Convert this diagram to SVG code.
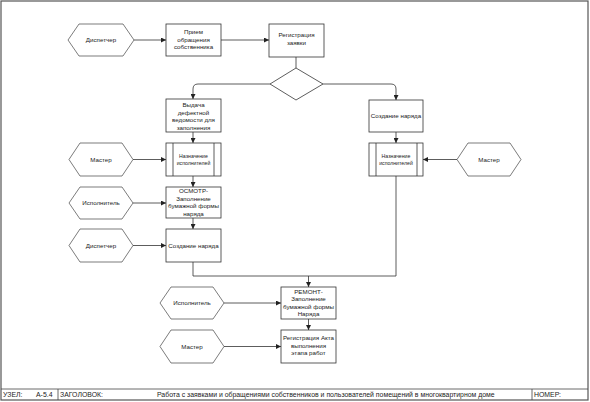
<svg xmlns="http://www.w3.org/2000/svg" width="590" height="402" viewBox="0 0 590 402">
<style>
.b{fill:#fff;stroke:#333;stroke-width:0.8}
.h{fill:#fff;stroke:#444;stroke-width:0.7}
.c{fill:none;stroke:#333;stroke-width:0.8}
text{font-family:"Liberation Sans",Arial,sans-serif;font-size:6.2px;fill:#222;text-anchor:middle}
.s{font-size:5.2px}
.f{font-size:6.9px;text-anchor:start}
</style>
<defs>
<marker id="a" viewBox="0 0 6 6" refX="6" refY="3" markerWidth="5" markerHeight="5" orient="auto" markerUnits="userSpaceOnUse">
<path d="M0,0L6,3L0,6z" fill="#222"/>
</marker>
</defs>
<rect x="0" y="0" width="590" height="402" fill="#fff"/>
<rect x="1" y="1" width="587" height="399" fill="none" stroke="#555" stroke-width="1.2"/>
<g id="footer">
<line x1="1" y1="389" x2="588" y2="389" stroke="#444" stroke-width="0.8"/>
<line x1="58" y1="389" x2="58" y2="400" stroke="#444" stroke-width="0.8"/>
<line x1="532" y1="389" x2="532" y2="400" stroke="#444" stroke-width="0.8"/>
<text class="f" x="3" y="397">УЗЕЛ:</text>
<text class="f" x="36" y="397">A-5.4</text>
<text class="f" x="60" y="397">ЗАГОЛОВОК:</text>
<text class="f" x="157" y="397">Работа с заявками и обращениями собственников и пользователей помещений в многоквартирном доме</text>
<text class="f" x="534" y="397">НОМЕР:</text>
</g>
<g id="connectors">
<path class="c" d="M134,40H166" marker-end="url(#a)"/>
<path class="c" d="M221,40H269" marker-end="url(#a)"/>
<path class="c" d="M296,57V68"/>
<path class="c" d="M270,84H198Q193,84 193,89V99" marker-end="url(#a)"/>
<path class="c" d="M323,84H391Q396,84 396,89V100" marker-end="url(#a)"/>
<path class="c" d="M193,132V143" marker-end="url(#a)"/>
<path class="c" d="M133,159.5H166" marker-end="url(#a)"/>
<path class="c" d="M193,176V187" marker-end="url(#a)"/>
<path class="c" d="M133,203H166" marker-end="url(#a)"/>
<path class="c" d="M193,218V229" marker-end="url(#a)"/>
<path class="c" d="M133,245.5H166" marker-end="url(#a)"/>
<path class="c" d="M396,132V143" marker-end="url(#a)"/>
<path class="c" d="M457,159.5H423" marker-end="url(#a)"/>
<path class="c" d="M193,262V276H396V176"/>
<path class="c" d="M308.5,276V287" marker-end="url(#a)"/>
<path class="c" d="M224,303H281" marker-end="url(#a)"/>
<path class="c" d="M308.5,319V330" marker-end="url(#a)"/>
<path class="c" d="M224,346.5H281" marker-end="url(#a)"/>
</g>
<g id="n_disp1">
<polygon class="h" points="68,40 79,24 123,24 134,40 123,56 79,56"/>
<text x="101" y="42">Диспетчер</text>
</g>
<g id="n_priem">
<rect class="b" x="166" y="24" width="55" height="32"/>
<text x="193.5" y="34">Прием</text>
<text x="193.5" y="41.5">обращения</text>
<text x="193.5" y="49">собственника</text>
</g>
<g id="n_reg">
<rect class="b" x="269" y="24" width="55" height="33"/>
<text x="296.5" y="37">Регистрация</text>
<text x="296.5" y="44.5">заявки</text>
</g>
<g id="n_dec">
<polygon class="b" points="296,68 323,84 296,100 270,84"/>
</g>
<g id="n_vydacha">
<rect class="b" x="166" y="99" width="55" height="33"/>
<text x="193.5" y="107">Выдача</text>
<text x="193.5" y="114.5">дефектной</text>
<text x="193.5" y="122">ведомости для</text>
<text x="193.5" y="129.5">заполнения</text>
</g>
<g id="n_master1">
<polygon class="h" points="69,159.5 80,143 122,143 133,159.5 122,176 80,176"/>
<text x="101" y="161.5">Мастер</text>
</g>
<g id="n_nazn1">
<rect class="b" x="166" y="143" width="55" height="33"/>
<line class="b" x1="173" y1="143" x2="173" y2="176"/>
<line class="b" x1="214" y1="143" x2="214" y2="176"/>
<text class="s" x="193.5" y="158">Назначение</text>
<text class="s" x="193.5" y="164.5">исполнителей</text>
</g>
<g id="n_isp1">
<polygon class="h" points="69,203 80,187 122,187 133,203 122,219 80,219"/>
<text x="101" y="205">Исполнитель</text>
</g>
<g id="n_osmotr">
<rect class="b" x="166" y="187" width="55" height="31"/>
<text x="193.5" y="193">ОСМОТР-</text>
<text x="193.5" y="200.5">Заполнение</text>
<text x="193.5" y="208">бумажной формы</text>
<text x="193.5" y="215.5">наряда</text>
</g>
<g id="n_disp2">
<polygon class="h" points="69,245.5 80,229 122,229 133,245.5 122,262 80,262"/>
<text x="101" y="247.5">Диспетчер</text>
</g>
<g id="n_sozd1">
<rect class="b" x="166" y="229" width="55" height="33"/>
<text x="193.5" y="247.5">Создание наряда</text>
</g>
<g id="n_sozd2">
<rect class="b" x="369" y="100" width="54" height="32"/>
<text x="396" y="118">Создание наряда</text>
</g>
<g id="n_nazn2">
<rect class="b" x="369" y="143" width="54" height="33"/>
<line class="b" x1="376" y1="143" x2="376" y2="176"/>
<line class="b" x1="417" y1="143" x2="417" y2="176"/>
<text class="s" x="396" y="158">Назначение</text>
<text class="s" x="396" y="164.5">исполнителей</text>
</g>
<g id="n_master2">
<polygon class="h" points="457,159.5 468,143 510,143 521,159.5 510,176 468,176"/>
<text x="489" y="161.5">Мастер</text>
</g>
<g id="n_isp2">
<polygon class="h" points="160,303 171,287 213,287 224,303 213,319 171,319"/>
<text x="192" y="305">Исполнитель</text>
</g>
<g id="n_remont">
<rect class="b" x="281" y="287" width="55" height="32"/>
<text x="308.5" y="293.5">РЕМОНТ-</text>
<text x="308.5" y="301">Заполнение</text>
<text x="308.5" y="308.5">бумажной формы</text>
<text x="308.5" y="316">Наряда</text>
</g>
<g id="n_master3">
<polygon class="h" points="160,346.5 171,330 213,330 224,346.5 213,363 171,363"/>
<text x="192" y="348.5">Мастер</text>
</g>
<g id="n_akt">
<rect class="b" x="281" y="330" width="55" height="33"/>
<text x="308.5" y="340">Регистрация Акта</text>
<text x="308.5" y="347.5">выполнения</text>
<text x="308.5" y="355">этапа работ</text>
</g>
</svg>
